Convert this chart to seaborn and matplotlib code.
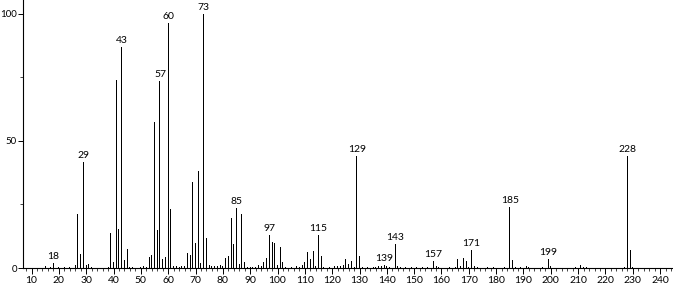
import matplotlib
matplotlib.use("Agg")
import matplotlib.pyplot as plt
import seaborn as sns
import pandas as pd
from matplotlib.ticker import MultipleLocator

mz = [15, 17, 18, 20, 22, 24, 26, 27, 28, 29, 30, 31, 32, 38, 39, 40, 41, 42, 43, 44,
      45, 46, 47, 50, 51, 52, 53, 54, 55, 56, 57, 58, 59, 60, 61, 62, 63, 64, 65, 66,
      67, 68, 69, 70, 71, 72, 73, 74, 75, 76, 77, 78, 79, 80, 81, 82, 83, 84, 85, 86,
      87, 88, 89, 90, 91, 92, 93, 94, 95, 96, 97, 98, 99, 100, 101, 102, 103, 105, 107, 108,
      109, 110, 111, 112, 113, 114, 115, 116, 117, 119, 121, 122, 123, 124, 125, 126, 127, 128, 129, 130,
      131, 133, 135, 136, 137, 138, 139, 140, 141, 143, 144, 145, 147, 149, 151, 153, 155, 157, 158, 159,
      163, 165, 166, 167, 168, 169, 170, 171, 172, 173, 177, 179, 183, 185, 186, 187, 189, 191, 192, 197,
      199, 200, 209, 211, 212, 213, 227, 228, 229, 230]
intensity = [0.7, 0.4, 1.8, 0.3, 0.3, 0.3, 1.0, 21.3, 5.6, 41.7, 1.0, 1.7, 0.5, 0.4, 13.6, 2.5, 73.8, 15.4, 87.0, 3.0,
             7.5, 0.5, 0.5, 0.3, 0.8, 0.4, 4.3, 5.0, 57.3, 15.0, 73.5, 3.4, 4.3, 96.3, 23.1, 0.8, 0.6, 0.3, 0.8, 0.6,
             5.9, 5.0, 33.7, 9.7, 38.1, 1.8, 100.0, 11.7, 1.0, 0.6, 0.6, 0.7, 1.2, 0.7, 3.8, 4.9, 19.6, 9.4, 23.5, 1.6,
             21.3, 2.2, 0.4, 0.3, 0.5, 0.3, 1.3, 0.6, 2.2, 3.9, 12.9, 10.1, 9.7, 1.0, 8.3, 2.2, 0.4, 0.3, 0.9, 0.5,
             1.0, 2.2, 6.4, 3.4, 6.7, 0.9, 12.9, 4.9, 0.4, 0.3, 0.9, 0.6, 0.9, 1.3, 3.4, 1.7, 2.9, 0.4, 44.2, 4.9,
             0.3, 0.3, 0.3, 0.5, 0.8, 0.9, 1.3, 0.9, 0.3, 9.4, 0.9, 0.4, 0.3, 0.3, 0.5, 0.3, 0.4, 2.9, 0.7, 0.3,
             0.3, 0.4, 3.5, 0.9, 3.9, 2.9, 0.4, 7.2, 0.9, 0.4, 0.3, 0.3, 0.3, 24.0, 3.0, 0.4, 0.3, 0.9, 0.3, 0.3,
             3.5, 0.8, 0.3, 1.0, 0.5, 0.3, 0.3, 44.2, 7.2, 0.4]
labeled_mz = [18, 29, 43, 57, 60, 73, 85, 97, 115, 129, 139, 143, 157, 171, 185, 199, 228]
x_ticks = [10, 20, 30, 40, 50, 60, 70, 80, 90, 100, 110, 120, 130, 140, 150, 160, 170, 180,
           190, 200, 210, 220, 230, 240]
y_ticks = [0, 50, 100]

df = pd.DataFrame({"mz": mz, "intensity": intensity})

sns.set_style("white")
plt.rcParams["font.family"] = ["Lato", "DejaVu Sans"]

fig = plt.figure(figsize=(6.73, 2.85), dpi=100)
W, H = 673, 285
left_px = 22.5
ax = fig.add_axes([left_px / W, 17 / H, (W - left_px) / W, 268 / H])

sns.barplot(data=df, x="mz", y="intensity", native_scale=True, width=0.37,
            color="black", linewidth=0, errorbar=None, ax=ax, saturation=1)

lookup = dict(zip(mz, intensity))
for m in labeled_mz:
    ax.annotate(str(m), xy=(m, lookup[m]), xytext=(0, 1.5), textcoords="offset points",
                ha="center", va="bottom", fontsize=7.5, color="black")

ax.set_xlim(6.7, 244.7)
ax.set_ylim(0, 105.4)
ax.set_xticks(x_ticks)
ax.set_xticklabels([str(t) for t in x_ticks])
ax.xaxis.set_minor_locator(MultipleLocator(2))
ax.set_yticks(y_ticks)
ax.set_yticklabels([str(t) for t in y_ticks])
ax.yaxis.set_minor_locator(MultipleLocator(25))
ax.set_xlabel("")
ax.set_ylabel("")

for s in ["top", "right"]:
    ax.spines[s].set_visible(False)
for s in ["left", "bottom"]:
    ax.spines[s].set_color("black")
    ax.spines[s].set_linewidth(0.8)

ax.tick_params(axis="x", which="major", direction="out", length=4, width=0.7,
               pad=1.5, labelsize=7.5, colors="black", bottom=True)
ax.tick_params(axis="x", which="minor", direction="out", length=2, width=0.6, bottom=True)
ax.tick_params(axis="y", which="major", direction="out", length=3.5, width=0.7,
               pad=0.5, labelsize=7, colors="black", left=True)
ax.tick_params(axis="y", which="minor", direction="out", length=2, width=0.6, left=True)

fig.savefig("out.png", dpi=100)
